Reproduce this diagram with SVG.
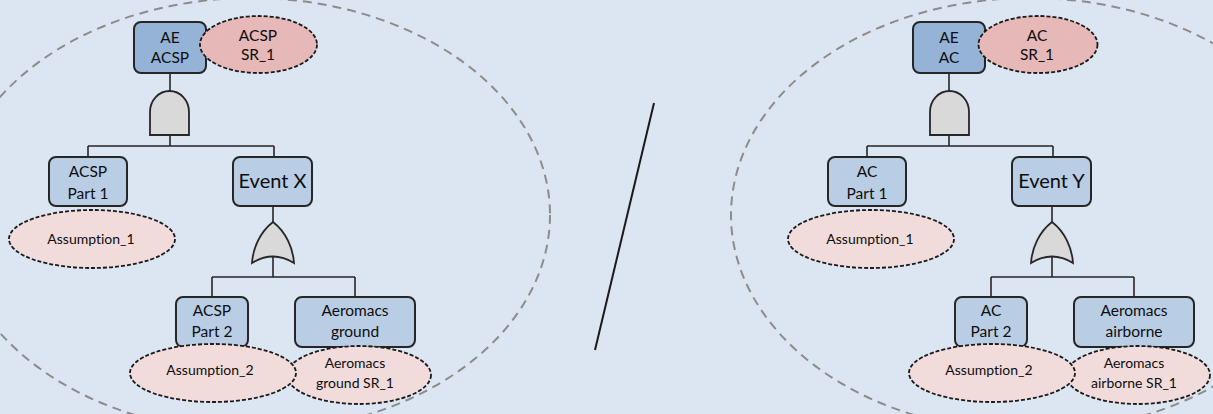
<svg xmlns="http://www.w3.org/2000/svg" width="1213" height="414" viewBox="0 0 1213 414">
<style>
.bg{fill:#dce6f2}
.region{fill:none;stroke:#8c8c8c;stroke-width:2;stroke-dasharray:9 6}
.top{fill:#95b3d7;stroke:#262626;stroke-width:2}
.box{fill:#b9cde5;stroke:#262626;stroke-width:2}
.sr{fill:#e6b8b7;stroke:#1a1a1a;stroke-width:1.8;stroke-dasharray:4 2}
.as{fill:#f2dcdb;stroke:#1a1a1a;stroke-width:1.8;stroke-dasharray:4 2}
.gate{fill:#d9d9d9;stroke:#262626;stroke-width:1.8}
.wire{fill:none;stroke:#262626;stroke-width:1.6}
text{font-family:Lato,"Liberation Sans",sans-serif;fill:#0d0d0d;text-anchor:middle;font-variant-ligatures:none;font-feature-settings:"liga" 0}
.t{font-size:15.5px}
.s{font-size:14px}
.big{font-size:20px}
</style>
<rect class="bg" x="0" y="0" width="1213" height="414"/>
<ellipse class="region" cx="251" cy="215" rx="299" ry="217"/>
<ellipse class="region" cx="1030" cy="215" rx="299" ry="217"/>
<line x1="654" y1="103" x2="595" y2="350" stroke="#1a1a1a" stroke-width="2"/>

<g id="connectors">
<path class="wire" d="M170,73 V91 M170,135 V146 M88,146 H274 M88,146 V157 M274,146 V157"/>
<path class="wire" d="M273,206 V222 M273,256 V277 M212,277 H355 M212,277 V297 M355,277 V297"/>
<path class="wire" d="M949,73 V91 M949,135 V146 M867,146 H1053 M867,146 V157 M1053,146 V157"/>
<path class="wire" d="M1052,206 V222 M1052,256 V277 M991,277 H1134 M991,277 V297 M1134,277 V297"/>
</g>

<g id="left-tree">
<g id="ae-acsp"><rect class="top" x="134" y="22" width="72" height="51" rx="7"/><text class="t" x="170" y="43">AE</text><text class="t" x="170" y="63">ACSP</text></g>
<g id="acsp-sr1"><ellipse class="sr" cx="258.5" cy="44.5" rx="58.5" ry="28.5"/><text class="t" x="258" y="41">ACSP</text><text class="t" x="258" y="60">SR_1</text></g>
<g id="and-left"><path class="gate" d="M150,135 V112 A19.5,21 0 0 1 189,112 V135 Z"/></g>
<g id="acsp-part1"><rect class="box" x="49" y="157" width="78" height="49" rx="7"/><text class="t" x="88" y="177">ACSP</text><text class="t" x="88" y="199">Part 1</text></g>
<g id="event-x"><rect class="box" x="233" y="157" width="79" height="49" rx="7"/><text class="big" x="272.5" y="188">Event X</text></g>
<g id="assumption1-left"><ellipse class="as" cx="92" cy="239" rx="83" ry="29"/><text class="s" x="91" y="244">Assumption_1</text></g>
<g id="or-left"><path class="gate" d="M273,222 C286,232 293,248 294,263 Q273,250 252,263 C253,248 260,232 273,222 Z"/></g>
<g id="acsp-part2"><rect class="box" x="176" y="297" width="72" height="50" rx="7"/><text class="t" x="212" y="316">ACSP</text><text class="t" x="212" y="337">Part 2</text></g>
<g id="aeromacs-ground"><rect class="box" x="295" y="297" width="120" height="50" rx="7"/><text class="t" x="355" y="316">Aeromacs</text><text class="t" x="355" y="337">ground</text></g>
<g id="aeromacs-ground-sr1"><ellipse class="as" cx="359" cy="375" rx="72" ry="29"/><text class="s" x="355" y="368">Aeromacs</text><text class="s" x="355" y="388">ground SR_1</text></g>
<g id="assumption2-left"><ellipse class="as" cx="213" cy="373" rx="83" ry="29"/><text class="s" x="210" y="375">Assumption_2</text></g>
</g>

<g id="right-tree">
<g id="ae-ac"><rect class="top" x="913" y="22" width="72" height="51" rx="7"/><text class="t" x="949" y="43">AE</text><text class="t" x="949" y="63">AC</text></g>
<g id="ac-sr1"><ellipse class="sr" cx="1038" cy="44.5" rx="59.5" ry="28.5"/><text class="t" x="1037" y="41">AC</text><text class="t" x="1037" y="60">SR_1</text></g>
<g id="and-right"><path class="gate" d="M929,135 V112 A19.5,21 0 0 1 968,112 V135 Z" transform="translate(1,0)"/></g>
<g id="ac-part1"><rect class="box" x="828" y="157" width="78" height="49" rx="7"/><text class="t" x="867" y="177">AC</text><text class="t" x="867" y="199">Part 1</text></g>
<g id="event-y"><rect class="box" x="1012" y="157" width="79" height="49" rx="7"/><text class="big" x="1051.5" y="188">Event Y</text></g>
<g id="assumption1-right"><ellipse class="as" cx="871" cy="239" rx="83" ry="29"/><text class="s" x="870" y="244">Assumption_1</text></g>
<g id="or-right"><path class="gate" d="M1052,222 C1065,232 1072,248 1073,263 Q1052,250 1031,263 C1032,248 1039,232 1052,222 Z"/></g>
<g id="ac-part2"><rect class="box" x="955" y="297" width="72" height="50" rx="7"/><text class="t" x="991" y="316">AC</text><text class="t" x="991" y="337">Part 2</text></g>
<g id="aeromacs-airborne"><rect class="box" x="1074" y="297" width="120" height="50" rx="7"/><text class="t" x="1134" y="316">Aeromacs</text><text class="t" x="1134" y="337">airborne</text></g>
<g id="aeromacs-airborne-sr1"><ellipse class="as" cx="1138" cy="375" rx="72" ry="29"/><text class="s" x="1134" y="368">Aeromacs</text><text class="s" x="1134" y="388">airborne SR_1</text></g>
<g id="assumption2-right"><ellipse class="as" cx="992" cy="373" rx="83" ry="29"/><text class="s" x="989" y="375">Assumption_2</text></g>
</g>
</svg>
